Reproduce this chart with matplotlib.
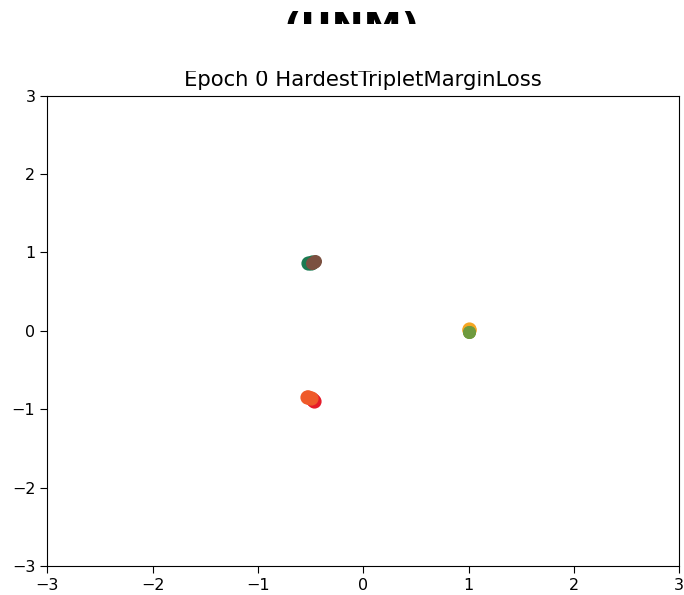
import matplotlib
matplotlib.use('Agg')
from matplotlib import pyplot as plt
from matplotlib.patches import Rectangle

# embedding points per class (x, y)
green_x = [-0.52, -0.50, -0.49]
green_y = [0.86, 0.87, 0.88]
brown_x = [-0.49, -0.47, -0.46]
brown_y = [0.87, 0.88, 0.89]
orange_x = [1.0, 1.0]
orange_y = [0.01, 0.02]
olive_x = [1.0, 1.0]
olive_y = [-0.01, -0.02]
red_x = [-0.49, -0.48, -0.47]
red_y = [-0.87, -0.88, -0.89]
orangered_x = [-0.53, -0.52, -0.50]
orangered_y = [-0.84, -0.85, -0.86]

fig = plt.figure(figsize=(6.84, 5.95), dpi=100)
ax = fig.add_axes([0.069, 0.049, 0.924, 0.790])

ax.scatter(green_x, green_y, s=85, color='#1b7a52')
ax.scatter(brown_x, brown_y, s=70, color='#7b5040')
ax.scatter(orange_x, orange_y, s=85, color='#f5a623')
ax.scatter(olive_x, olive_y, s=70, color='#6e9a3e')
ax.scatter(red_x, red_y, s=85, color='#e51b2a')
ax.scatter(orangered_x, orangered_y, s=85, color='#ef5a2a')

ax.set_xlim(-3, 3)
ax.set_ylim(-3, 3)
ax.tick_params(labelsize=11.5, length=5)
ax.set_title('Epoch 0 HardestTripletMarginLoss', fontsize=15.2, pad=7)

# big header, only its top strip shows in the reference
fig.text(0.515, 0.9345, '(UNM)', ha='center', va='baseline', fontsize=27.5, fontweight='bold')
fig.patches.append(Rectangle((0, 0.88), 1, 0.0797, transform=fig.transFigure,
                             facecolor='white', edgecolor='none', zorder=5))

plt.savefig('out.png', dpi=100)
